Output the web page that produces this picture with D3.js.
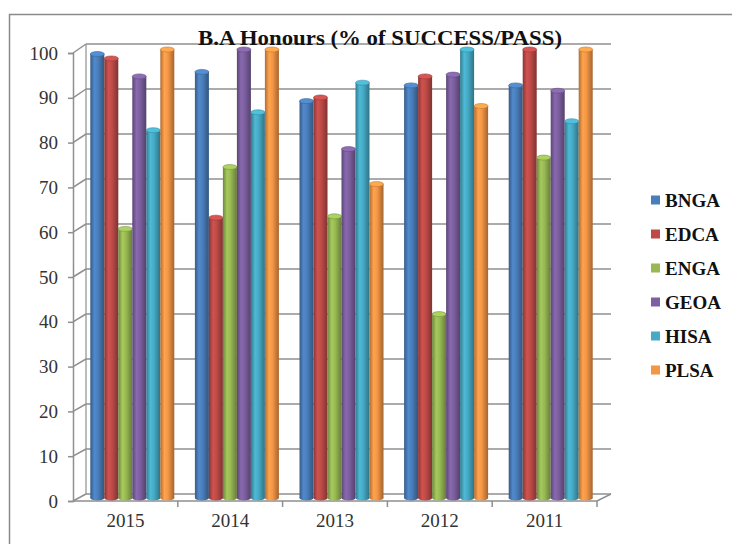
<!DOCTYPE html>
<html>
<head>
<meta charset="utf-8">
<script src="https://cdn.jsdelivr.net/npm/d3@7"></script>
<style>
  html, body { margin: 0; padding: 0; background: #fff; }
  svg { display: block; }
  svg text { font-family: "Liberation Serif", "DejaVu Serif", serif; }
</style>
</head>
<body>
<svg id="chart" width="732" height="544"></svg>
<script>
// ---- data ----
const years = ["2015", "2014", "2013", "2012", "2011"];
const series = ["BNGA", "EDCA", "ENGA", "GEOA", "HISA", "PLSA"];
const BNGA = [99, 95, 88.5, 92, 92];
const EDCA = [98, 62.5, 89.3, 94, 100];
const ENGA = [60, 73.8, 62.8, 41, 75.9];
const GEOA = [94, 100, 77.8, 94.4, 90.8];
const HISA = [82, 86, 92.6, 100, 84];
const PLSA = [100, 100, 70, 87.4, 100];
const yTicks = [0, 10, 20, 30, 40, 50, 60, 70, 80, 90, 100];
const titleText = "B.A Honours (% of SUCCESS/PASS)";
const colors = ["#4A7EBB", "#BE4B48", "#98B954", "#7D60A0", "#46AAC5", "#F39646"];

const valuesBySeries = [BNGA, EDCA, ENGA, GEOA, HISA, PLSA];

const svg = d3.select("#chart");
const gridColor = "#8f8f8f";
const serif = "font-family: 'Liberation Serif', 'DejaVu Serif', serif";

// outer border
svg.append("path")
  .attr("d", "M9.5,544 L9.5,14.5 L732,14.5")
  .attr("fill", "none").attr("stroke", "#8a8a8a").attr("stroke-width", 1.5);

// scales: front plane, back wall, and bar (mid-depth) plane
const yFront = d3.scaleLinear().domain([0, 100]).range([501, 53]);
const yBack = d3.scaleLinear().domain([0, 100]).range([494, 44]);
const yBar = d3.scaleLinear().domain([0, 100]).range([498, 49.5]);
const xFront = d3.scaleBand().domain(years).range([73, 597]);
const xBack = d3.scaleBand().domain(years).range([86, 611]);
const xBar = d3.scaleBand().domain(years).range([80, 603]);
const groupW = 84;
const xInner = d3.scaleBand().domain(series).range([0, groupW]);

// back wall gridlines
const grid = svg.append("g");
grid.selectAll("line.grid").data(yTicks).join("line")
  .attr("x1", xBack.range()[0]).attr("x2", xBack.range()[1])
  .attr("y1", d => yBack(d)).attr("y2", d => yBack(d))
  .attr("stroke", gridColor).attr("stroke-width", 1.5);
// side wall diagonals
grid.selectAll("line.diag").data(yTicks).join("line")
  .attr("x1", xFront.range()[0]).attr("x2", xBack.range()[0])
  .attr("y1", d => yFront(d)).attr("y2", d => yBack(d))
  .attr("stroke", gridColor).attr("stroke-width", 1.5);
// back wall left edge
grid.append("line")
  .attr("x1", xBack.range()[0]).attr("x2", xBack.range()[0])
  .attr("y1", yBack(100)).attr("y2", yBack(0))
  .attr("stroke", gridColor).attr("stroke-width", 1.2);
// floor
grid.append("path")
  .attr("d", `M${xFront.range()[0]},${yFront(0)} L${xFront.range()[1]},${yFront(0)} L${xBack.range()[1]},${yBack(0)}`)
  .attr("fill", "none").attr("stroke", gridColor).attr("stroke-width", 1.5);

// front y axis
const yAxis = d3.axisLeft(yFront).tickValues(yTicks).tickSize(5).tickPadding(10);
const yg = svg.append("g").attr("transform", `translate(${xFront.range()[0]},0)`).call(yAxis);
yg.attr("font-family", null);
yg.select(".domain").attr("stroke", gridColor).attr("stroke-width", 1.5);
yg.selectAll(".tick line").attr("stroke", gridColor).attr("stroke-width", 1.5);
yg.selectAll(".tick text")
  .attr("style", serif)
  .attr("font-size", 19).attr("fill", "#333");

// x axis (category) ticks at band boundaries
const xBounds = years.map(y => xFront(y) + xFront.bandwidth());
svg.append("g").selectAll("line").data(xBounds).join("line")
  .attr("x1", d => d).attr("x2", d => d)
  .attr("y1", yFront(0)).attr("y2", yFront(0) + 6)
  .attr("stroke", gridColor).attr("stroke-width", 1.5);
const xAxis = d3.axisBottom(xFront).tickSize(0).tickPadding(13);
const xg = svg.append("g").attr("transform", `translate(0,${yFront(0)})`).call(xAxis);
xg.attr("font-family", null);
xg.select(".domain").remove();
xg.selectAll(".tick text")
  .attr("style", serif)
  .attr("font-size", 19).attr("fill", "#333");

// gradients for cylinder shading
const defs = svg.append("defs");
colors.forEach((c, i) => {
  const base = d3.color(c);
  const g = defs.append("linearGradient").attr("id", "grad" + i)
    .attr("x1", "0%").attr("x2", "100%").attr("y1", "0%").attr("y2", "0%");
  g.append("stop").attr("offset", "0%").attr("stop-color", base.darker(0.9));
  g.append("stop").attr("offset", "30%").attr("stop-color", base.brighter(0.25));
  g.append("stop").attr("offset", "55%").attr("stop-color", base);
  g.append("stop").attr("offset", "100%").attr("stop-color", base.darker(1.1));
});

// bars
const barData = [];
years.forEach((yr, yi) => {
  series.forEach((s, si) => {
    barData.push({ year: yr, series: s, si, value: valuesBySeries[si][yi] });
  });
});
const groupOffset = (xBar.bandwidth() - groupW) / 2;
const bw = xInner.bandwidth();
const ry = 2.5;
const bars = svg.append("g").selectAll("g.bar").data(barData).join("g")
  .attr("transform", d => `translate(${xBar(d.year) + groupOffset + xInner(d.series)},0)`);
bars.append("rect")
  .attr("x", 0).attr("width", bw)
  .attr("y", d => yBar(d.value))
  .attr("height", d => yBar(0) - yBar(d.value))
  .attr("fill", d => `url(#grad${d.si})`);
bars.append("ellipse")
  .attr("cx", bw / 2).attr("cy", yBar(0)).attr("rx", bw / 2).attr("ry", ry)
  .attr("fill", d => `url(#grad${d.si})`);
bars.append("ellipse")
  .attr("cx", bw / 2).attr("cy", d => yBar(d.value)).attr("rx", bw / 2).attr("ry", ry)
  .attr("fill", d => d3.color(colors[d.si]).brighter(0.35))
  .attr("stroke", d => d3.color(colors[d.si]).darker(0.6)).attr("stroke-width", 0.6);

// title
svg.append("text")
  .attr("x", 380).attr("y", 45).attr("text-anchor", "middle")
  .attr("style", serif)
  .attr("font-weight", "bold").attr("font-size", 22).attr("fill", "#111")
  .attr("textLength", 364).attr("lengthAdjust", "spacingAndGlyphs")
  .text(titleText);

// legend
const legend = svg.append("g").selectAll("g").data(series).join("g")
  .attr("transform", (d, i) => `translate(651,${200 + i * 34})`);
legend.append("rect")
  .attr("x", 0).attr("y", -4.5).attr("width", 9).attr("height", 9)
  .attr("fill", (d, i) => colors[i]);
legend.append("text")
  .attr("x", 14).attr("y", 7)
  .attr("style", serif)
  .attr("font-weight", "bold").attr("font-size", 19).attr("fill", "#111")
  .text(d => d);
</script>
</body>
</html>
